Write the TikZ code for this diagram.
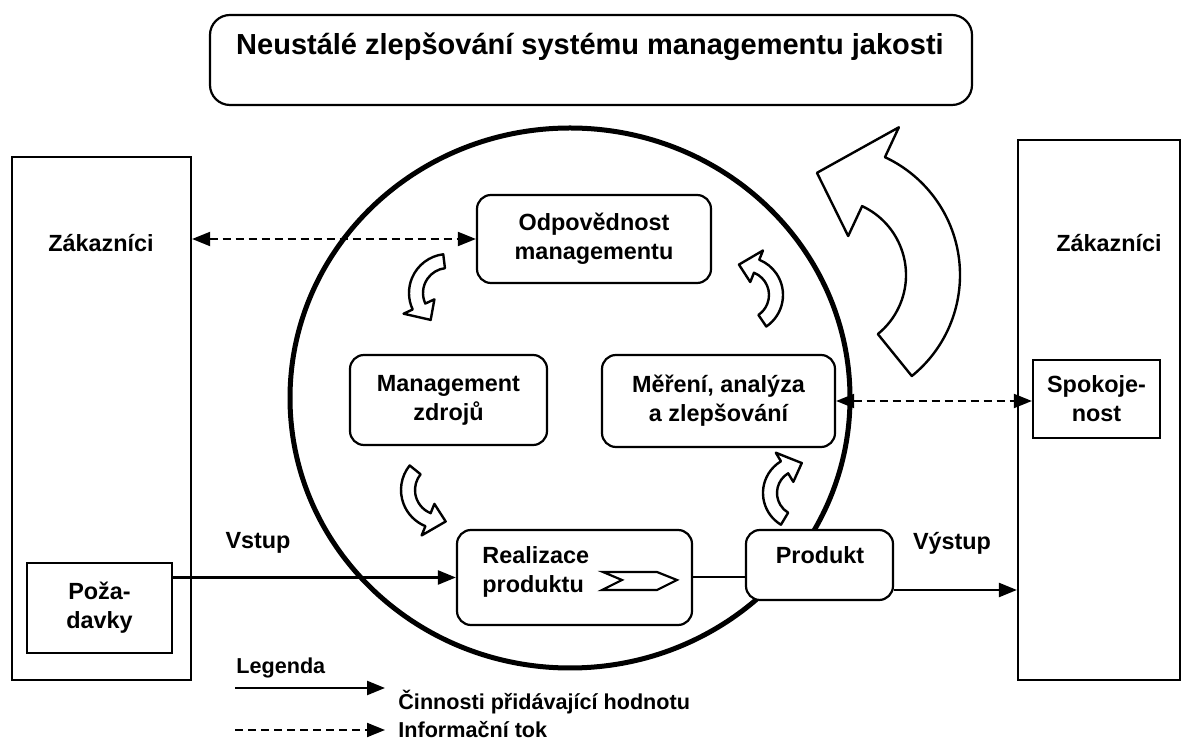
\documentclass[tikz,border=0pt]{standalone}
\usepackage{fontspec}
\setmainfont{Liberation Sans}
\usetikzlibrary{arrows.meta}
\newcommand{\lbl}{\fontsize{11.7}{14.5}\selectfont\bfseries}
\newcommand{\lgd}{\fontsize{10.8}{12}\selectfont\bfseries}
% hollow curved arrow: cx, cy, r, from, to, half band, half head, head length
\newcommand{\curvArr}[8]{%
  \pgfmathsetmacro{\tipang}{#5+(#5-#4)/abs(#5-#4)*#8/#3*57.3}%
  \draw[bent,shift={(#1,#2)}] ({#4}:{#3+#6}) arc[start angle={#4}, end angle={#5}, radius={#3+#6}]
    -- ({#5}:{#3+#7}) -- (\tipang:#3) -- ({#5}:{#3-#7}) -- ({#5}:{#3-#6})
    arc[start angle={#5}, end angle={#4}, radius={#3-#6}] -- cycle;}

\tikzset{
  rbox/.style={draw, line width=1.1pt, rounded corners=7pt, inner sep=0pt, font=\lbl, align=center},
  sbox/.style={draw, line width=1.1pt, inner sep=0pt, font=\lbl, align=center},
  txt/.style={inner sep=0pt, font=\lbl, align=center},
  flow/.style={line width=1.2pt, -{Triangle[length=9pt,width=7pt]}},
  info/.style={line width=1pt, dash pattern=on 4pt off 2.5pt, {Triangle[length=9pt,width=7pt]}-{Triangle[length=9pt,width=7pt]}},
  bent/.style={line width=1.2pt, fill=white, line join=round},
}

\begin{document}
\begin{tikzpicture}[x=0.5pt,y=-0.5pt]
\useasboundingbox (0,0) rectangle (1189,742);

% title
\node[rbox, rounded corners=10pt, minimum width=381pt, minimum height=45pt] (title) at (591,60) {};
\node[txt, font=\fontsize{14.5}{17}\selectfont\bfseries] (titletxt) at (590,47) {Neustálé zlepšování systému managementu jakosti};

% customers
\node[sbox, minimum width=89.5pt, minimum height=261.5pt] (zakL) at (101.5,418.5) {};
\node[txt] (zakLtxt) at (101,243) {Zákazníci};
\node[sbox, minimum width=72.5pt, minimum height=45pt] (poz) at (99.5,608) {Poža-\\davky};

\node[sbox, minimum width=81pt, minimum height=270pt] (zakR) at (1099,410) {};
\node[txt] (zakRtxt) at (1109,243) {Zákazníci};
\node[sbox, minimum width=63.5pt, minimum height=39pt] (spok) at (1096.5,399) {Spokoje-\\nost};

% process loop
\draw[line width=2.5pt] (570,398) ellipse[x radius=280, y radius=270];

\node[rbox, fill=white, minimum width=117pt, minimum height=44pt] (odp) at (594,239) {Odpovědnost\\managementu};
\node[rbox, minimum width=98.5pt, minimum height=45pt] (mzd) at (448.5,400) {Management\\zdrojů};
\node[rbox, minimum width=116.5pt, minimum height=46pt] (mer) at (718.5,401) {Měření, analýza\\a zlepšování};
\node[rbox, fill=white, minimum width=117.5pt, minimum height=47.5pt] (real) at (574.5,577.5) {};
\node[txt, anchor=west, align=left] (realtxt) at (482,572) {Realizace\\produktu};
\node[rbox, fill=white, minimum width=73.5pt, minimum height=35pt] (prod) at (819.5,565) {};
\node[txt] (prodtxt) at (820,555) {Produkt};

% chevron
\draw[line width=1.1pt, line join=miter] (603,572) -- (657,572) -- (677,580) -- (657,590) -- (602,590) -- (622,580) -- cycle;

% curved arrows
\curvArr{448}{293}{32}{263}{155}{7}{17}{18}
\curvArr{440}{490}{32}{219}{112}{7}{17}{18}
\curvArr{800}{493}{30}{121}{239}{7}{17}{18}
\curvArr{745}{295}{31}{56}{-68}{7}{17}{18}
\curvArr{830}{275}{103}{51}{-65}{27}{60}{58}

% connectors
\draw[flow] (real.west -| poz.east) -- (real.west);
\draw[line width=1pt] (real.east) -- (real.east -| prod.west);
\draw[flow] ([yshift=-12.5pt]prod.east) -- ([yshift=-12.5pt]prod.east -| zakR.west);
\draw[info] (zakL.east |- odp.west) -- (odp.west);
\draw[info] (mer.east) -- (mer.east -| spok.west);
\node[txt] (vstup) at (258,543) {Vstup};
\node[txt] (vystup) at (952,543) {Výstup};

% legend
\node[txt, font=\lgd, anchor=west] (leg) at (236,668) {Legenda};
\coordinate (l1a) at (235,688);
\coordinate (l1b) at (385,688);
\coordinate (l2a) at (235,730);
\coordinate (l2b) at (385,730);
\draw[flow] (l1a) -- (l1b);
\draw[line width=1pt, dash pattern=on 4pt off 2.5pt, -{Triangle[length=9pt,width=7pt]}] (l2a) -- (l2b);
\node[txt, font=\lgd, anchor=west] (leg1) at (398,702) {Činnosti přidávající hodnotu};
\node[txt, font=\lgd, anchor=west] (leg2) at (398,730) {Informační tok};
\end{tikzpicture}
\end{document}
